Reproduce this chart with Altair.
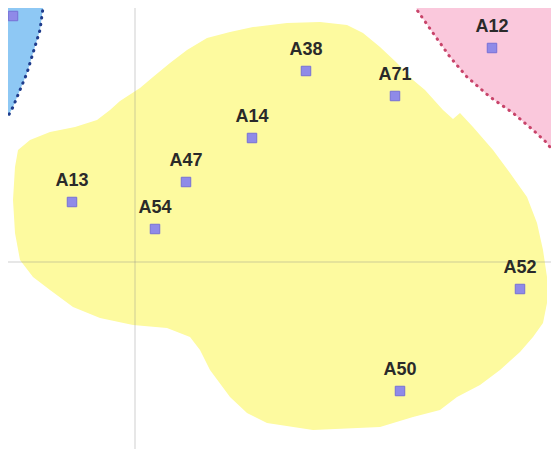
import altair as alt

# ---- data (reference-pixel coordinate system) ----
yellow_x = [97, 110, 120, 140, 153, 170, 187, 207, 230, 253, 287, 320, 347, 363, 380, 397, 413, 425,
            443, 453, 460, 473, 493, 510, 527, 537, 543, 547, 547, 543, 533, 520, 500, 480, 457, 440,
            413, 380, 313, 267, 247, 230, 210, 200, 190, 167, 133, 100, 73, 50, 33, 20, 15, 13, 15,
            18, 30, 50, 75]
yellow_y = [120, 110, 101, 88, 77, 63, 50, 38, 32, 27, 23, 22, 25, 33, 47, 63, 80, 90,
            110, 119, 113, 127, 150, 173, 197, 223, 250, 277, 303, 323, 337, 352, 370, 385, 397, 410,
            417, 427, 430, 423, 413, 397, 370, 350, 337, 328, 325, 318, 307, 290, 277, 260, 233, 200, 167,
            150, 140, 132, 127]

blue_edge_x = [47, 43, 40, 33, 27, 20, 13, 6]
blue_edge_y = [-2, 8, 30, 53, 73, 90, 107, 120]
blue_corner_x = [0, 0]
blue_corner_y = [120, -2]

pink_edge_x = [414, 417, 433, 450, 467, 490, 513, 533, 547, 557, 563]
pink_edge_y = [-2, 10, 33, 57, 77, 97, 113, 130, 143, 157, 163]
pink_corner_x = [563]
pink_corner_y = [-2]

cross_x = 135
cross_y = 262

point_labels = ["A12", "A38", "A71", "A14", "A47", "A13", "A54", "A52", "A50"]
point_x = [492, 306, 395, 252, 186, 72, 155, 520, 400]
point_y = [48, 71, 96, 138, 182, 202, 229, 289, 391]

blue_point_x = [13]
blue_point_y = [16]

# ---- build geo features ----
def polygon(xs, ys):
    ring = [[x, y] for x, y in zip(xs, ys)]
    ring.append(ring[0])
    return {"type": "Feature", "properties": {}, "geometry": {"type": "Polygon", "coordinates": [ring]}}

def linestring(xs, ys):
    return {"type": "Feature", "properties": {},
            "geometry": {"type": "LineString", "coordinates": [[x, y] for x, y in zip(xs, ys)]}}

proj = dict(type="identity", scale=1, translate=[-8, -8])

yellow = alt.Chart(alt.Data(values=[polygon(yellow_x, yellow_y)])).mark_geoshape(
    fill="#fdfa9f", strokeWidth=0, clip=True).project(**proj)
blue = alt.Chart(alt.Data(values=[polygon(blue_edge_x + blue_corner_x, blue_edge_y + blue_corner_y)])).mark_geoshape(
    fill="#8ec8f4", strokeWidth=0, clip=True).project(**proj)
pink = alt.Chart(alt.Data(values=[polygon(pink_edge_x + pink_corner_x, pink_edge_y + pink_corner_y)])).mark_geoshape(
    fill="#fac8dc", strokeWidth=0, clip=True).project(**proj)

cross = alt.Chart(alt.Data(values=[linestring([cross_x, cross_x], [-10, 470]),
                                   linestring([-10, 570], [cross_y, cross_y])])).mark_geoshape(
    filled=False, stroke="#8a8a8a", strokeOpacity=0.4, strokeWidth=1, clip=True).project(**proj)

blue_border = alt.Chart(alt.Data(values=[linestring(blue_edge_x, blue_edge_y)])).mark_geoshape(
    filled=False, stroke="#1f3c8c", strokeWidth=3, strokeDash=[0.5, 6.3], strokeCap="round", clip=True).project(**proj)
pink_border = alt.Chart(alt.Data(values=[linestring(pink_edge_x, pink_edge_y)])).mark_geoshape(
    filled=False, stroke="#c8446a", strokeWidth=3, strokeDash=[0.5, 6.3], strokeCap="round", clip=True).project(**proj)

pts_data = alt.Data(values=[{"label": l, "px": x, "py": y} for l, x, y in zip(point_labels, point_x, point_y)]
                    + [{"label": "", "px": x, "py": y} for x, y in zip(blue_point_x, blue_point_y)])

points = alt.Chart(pts_data).mark_square(
    size=90, filled=True, color="#8f8ae8", opacity=1, stroke="#7670d6", strokeWidth=1, clip=True
).encode(longitude="px:Q", latitude="py:Q").project(**proj)

labels = alt.Chart(pts_data).mark_text(
    font="Liberation Sans", fontSize=18, fontWeight="bold", color="#2a2a2a",
    baseline="alphabetic", align="center", dy=-16, clip=True
).encode(longitude="px:Q", latitude="py:Q", text="label:N").project(**proj)

chart = alt.layer(yellow, blue, pink, cross, blue_border, pink_border, points, labels).properties(
    width=543, height=441, padding=0
).configure_view(strokeWidth=0)

chart.save("out.html", embed_options={"renderer": "svg", "actions": False})
